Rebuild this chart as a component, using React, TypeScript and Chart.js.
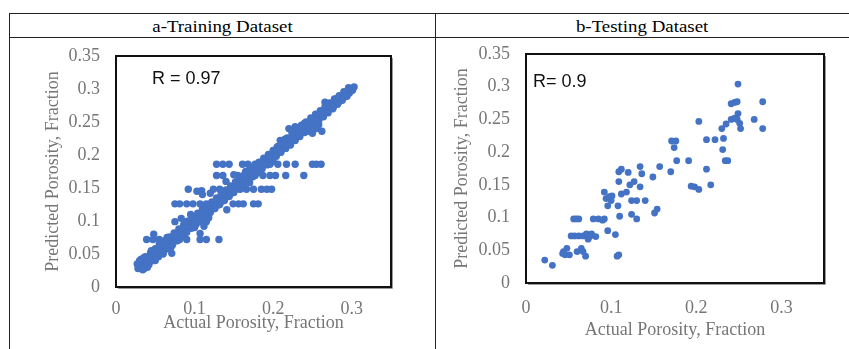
import React, { useEffect, useRef } from "react";
import { Chart, registerables } from "chart.js";

Chart.register(...registerables);

// ---------- data ----------
const headerLabels = ["a-Training Dataset", "b-Testing Dataset"];
const rLabels = ["R = 0.97", "R= 0.9"];
const xAxisTitle = "Actual Porosity, Fraction";
const yAxisTitle = "Predicted Porosity, Fraction";

const xTickValues = [0, 0.1, 0.2, 0.3];
const xTickLabels = ["0", "0.1", "0.2", "0.3"];
const yTickValues = [0, 0.05, 0.1, 0.15, 0.2, 0.25, 0.3, 0.35];
const yTickLabels = ["0", "0.05", "0.1", "0.15", "0.2", "0.25", "0.3", "0.35"];

// training: [actual, predicted] along the main band
const trainBand: number[][] = [
  [0.028, 0.028], [0.029, 0.034], [0.031, 0.030], [0.033, 0.036], [0.034, 0.031],
  [0.036, 0.039], [0.038, 0.034], [0.040, 0.041], [0.041, 0.036], [0.043, 0.046],
  [0.045, 0.040], [0.046, 0.050], [0.048, 0.044], [0.050, 0.047], [0.052, 0.053],
  [0.053, 0.049], [0.055, 0.057], [0.057, 0.052], [0.058, 0.060], [0.060, 0.055],
  [0.062, 0.062], [0.064, 0.058], [0.066, 0.066], [0.067, 0.061], [0.069, 0.070],
  [0.071, 0.066], [0.073, 0.074], [0.075, 0.070], [0.077, 0.078], [0.078, 0.074],
  [0.080, 0.083], [0.082, 0.078], [0.084, 0.086], [0.086, 0.082], [0.088, 0.090],
  [0.090, 0.086], [0.091, 0.094], [0.093, 0.090], [0.095, 0.098], [0.097, 0.094],
  [0.099, 0.101], [0.101, 0.097], [0.103, 0.105], [0.105, 0.101], [0.107, 0.108],
  [0.109, 0.104], [0.111, 0.112], [0.113, 0.108], [0.115, 0.116], [0.117, 0.112],
  [0.119, 0.120], [0.121, 0.116], [0.123, 0.124], [0.125, 0.120], [0.127, 0.128],
  [0.129, 0.124], [0.131, 0.132], [0.133, 0.128], [0.135, 0.136], [0.137, 0.133],
  [0.139, 0.140], [0.141, 0.137], [0.143, 0.144], [0.145, 0.140], [0.147, 0.148],
  [0.149, 0.145], [0.151, 0.152], [0.153, 0.149], [0.155, 0.156], [0.157, 0.153],
  [0.159, 0.160], [0.161, 0.157], [0.163, 0.164], [0.165, 0.161], [0.167, 0.168],
  [0.169, 0.165], [0.171, 0.172], [0.173, 0.169], [0.175, 0.176], [0.177, 0.173],
  [0.179, 0.180], [0.181, 0.177], [0.183, 0.184], [0.185, 0.181], [0.187, 0.188],
  [0.189, 0.186], [0.191, 0.192], [0.193, 0.190], [0.195, 0.196], [0.197, 0.194],
  [0.199, 0.200], [0.201, 0.198], [0.203, 0.204], [0.205, 0.202], [0.207, 0.208],
  [0.209, 0.206], [0.211, 0.212], [0.213, 0.210], [0.215, 0.216], [0.217, 0.214],
  [0.219, 0.220], [0.221, 0.218], [0.223, 0.224], [0.225, 0.222], [0.227, 0.230],
  [0.229, 0.226], [0.231, 0.233], [0.233, 0.230], [0.235, 0.237], [0.237, 0.234],
  [0.239, 0.241], [0.241, 0.238], [0.243, 0.245], [0.245, 0.242], [0.247, 0.248],
  [0.249, 0.246], [0.251, 0.252], [0.253, 0.250], [0.255, 0.256], [0.257, 0.254],
  [0.259, 0.260], [0.261, 0.258], [0.263, 0.264], [0.265, 0.262], [0.267, 0.268],
  [0.269, 0.266], [0.271, 0.272], [0.273, 0.270], [0.275, 0.276], [0.277, 0.274],
  [0.279, 0.280], [0.281, 0.278], [0.283, 0.284], [0.285, 0.282], [0.287, 0.288],
  [0.289, 0.286], [0.291, 0.292], [0.293, 0.290], [0.295, 0.296], [0.297, 0.294],
  [0.299, 0.300], [0.301, 0.298], [0.303, 0.303],
];

// training: upper and lower edges of the band
const trainBandUpper: number[][] = [
  [0.032, 0.042], [0.038, 0.046], [0.044, 0.052], [0.050, 0.058], [0.056, 0.064],
  [0.062, 0.070], [0.068, 0.076], [0.074, 0.082], [0.080, 0.088], [0.086, 0.094],
  [0.092, 0.100], [0.098, 0.106], [0.104, 0.112], [0.110, 0.118], [0.116, 0.123],
  [0.122, 0.129], [0.128, 0.135], [0.134, 0.141], [0.140, 0.147], [0.146, 0.153],
  [0.152, 0.159], [0.158, 0.165], [0.164, 0.171], [0.170, 0.177], [0.176, 0.183],
  [0.182, 0.189], [0.188, 0.195], [0.194, 0.201], [0.200, 0.207], [0.206, 0.213],
  [0.212, 0.219], [0.218, 0.226], [0.224, 0.232], [0.236, 0.243], [0.242, 0.250],
  [0.248, 0.256], [0.254, 0.262], [0.260, 0.267], [0.266, 0.273], [0.272, 0.279],
  [0.278, 0.285], [0.284, 0.290], [0.290, 0.296], [0.296, 0.302],
];
const trainBandLower: number[][] = [
  [0.036, 0.028], [0.042, 0.034], [0.048, 0.040], [0.054, 0.046], [0.060, 0.052],
  [0.066, 0.058], [0.072, 0.064], [0.078, 0.070], [0.084, 0.077], [0.090, 0.083],
  [0.096, 0.089], [0.102, 0.095], [0.108, 0.101], [0.114, 0.107], [0.120, 0.113],
  [0.126, 0.119], [0.132, 0.125], [0.138, 0.131], [0.144, 0.137], [0.150, 0.143],
  [0.156, 0.149], [0.162, 0.155], [0.168, 0.161], [0.174, 0.167], [0.180, 0.173],
  [0.186, 0.179], [0.192, 0.185], [0.198, 0.192], [0.204, 0.198], [0.210, 0.204],
  [0.216, 0.210], [0.222, 0.216], [0.228, 0.222], [0.234, 0.228], [0.240, 0.234],
  [0.246, 0.240], [0.252, 0.246], [0.258, 0.252], [0.264, 0.258], [0.270, 0.264],
  [0.276, 0.270], [0.282, 0.277], [0.288, 0.283], [0.294, 0.289],
];

// training: horizontal rows of predictions
const trainRows: number[][] = [
  [0.128, 0.186], [0.136, 0.186], [0.144, 0.186], [0.161, 0.186], [0.168, 0.186],
  [0.177, 0.186], [0.196, 0.186], [0.206, 0.186], [0.217, 0.186], [0.228, 0.186],
  [0.250, 0.186], [0.255, 0.186], [0.261, 0.186],
  [0.128, 0.169], [0.136, 0.169], [0.155, 0.169], [0.163, 0.169], [0.177, 0.169],
  [0.187, 0.169], [0.196, 0.169], [0.203, 0.169], [0.216, 0.169], [0.239, 0.169],
  [0.092, 0.148], [0.103, 0.145], [0.109, 0.146], [0.124, 0.148], [0.132, 0.148],
  [0.158, 0.148], [0.166, 0.148], [0.175, 0.148], [0.185, 0.148], [0.192, 0.148],
  [0.198, 0.148],
  [0.075, 0.126], [0.081, 0.126], [0.090, 0.126], [0.098, 0.126], [0.107, 0.126],
  [0.115, 0.126], [0.149, 0.126], [0.156, 0.126], [0.162, 0.126], [0.175, 0.126],
  [0.181, 0.126],
  [0.075, 0.099], [0.090, 0.099], [0.107, 0.099], [0.115, 0.099],
  [0.039, 0.072], [0.047, 0.072], [0.055, 0.072], [0.065, 0.072], [0.081, 0.072],
  [0.090, 0.072], [0.107, 0.072], [0.115, 0.072], [0.131, 0.072],
  [0.058, 0.051], [0.071, 0.051],
];

const trainExtras: number[][] = [
  [0.107, 0.081], [0.048, 0.080], [0.141, 0.117], [0.095, 0.110], [0.100, 0.090],
  [0.112, 0.092], [0.118, 0.105], [0.083, 0.104], [0.110, 0.140], [0.120, 0.142],
  [0.140, 0.160], [0.150, 0.170], [0.160, 0.150], [0.165, 0.175], [0.170, 0.158],
  [0.220, 0.240], [0.224, 0.236], [0.228, 0.243], [0.232, 0.238], [0.240, 0.248],
  [0.244, 0.236], [0.250, 0.233], [0.255, 0.240], [0.258, 0.246], [0.262, 0.236],
  [0.236, 0.245], [0.266, 0.280], [0.270, 0.276], [0.276, 0.272], [0.283, 0.280],
  [0.280, 0.285], [0.209, 0.222], [0.215, 0.224], [0.222, 0.215], [0.200, 0.190],
  [0.205, 0.212], [0.030, 0.040], [0.036, 0.045], [0.040, 0.030], [0.045, 0.055],
  [0.050, 0.040], [0.055, 0.065], [0.060, 0.050], [0.065, 0.075], [0.070, 0.060],
  [0.034, 0.026], [0.027, 0.035],
];

// testing
const testActual = [
  0.022, 0.031, 0.044, 0.048, 0.046, 0.051, 0.043, 0.053, 0.057, 0.062,
  0.067, 0.056, 0.059, 0.062, 0.060, 0.065, 0.067, 0.070, 0.071, 0.073,
  0.077, 0.075, 0.082, 0.079, 0.085, 0.090, 0.092, 0.092, 0.096, 0.094,
  0.096, 0.098, 0.100, 0.101, 0.105, 0.107, 0.109, 0.108, 0.110, 0.109,
  0.109, 0.112, 0.112, 0.118, 0.120, 0.122, 0.124, 0.124, 0.127, 0.130,
  0.130, 0.134, 0.136, 0.134, 0.140, 0.149, 0.151, 0.154, 0.157, 0.170,
  0.171, 0.176, 0.174, 0.177, 0.191, 0.194, 0.198, 0.203, 0.203, 0.212,
  0.212, 0.217, 0.222, 0.230, 0.232, 0.231, 0.234, 0.237, 0.235, 0.241,
  0.241, 0.245, 0.248, 0.245, 0.248, 0.249, 0.249, 0.251, 0.252, 0.268,
  0.278, 0.278,
];
const testPredicted = [
  0.035, 0.027, 0.048, 0.053, 0.043, 0.043, 0.045, 0.072, 0.072, 0.072,
  0.072, 0.098, 0.098, 0.098, 0.048, 0.053, 0.048, 0.041, 0.075, 0.067,
  0.075, 0.071, 0.071, 0.098, 0.098, 0.096, 0.098, 0.139, 0.080, 0.129,
  0.118, 0.132, 0.126, 0.133, 0.074, 0.041, 0.043, 0.118, 0.102, 0.155,
  0.170, 0.174, 0.136, 0.139, 0.169, 0.150, 0.126, 0.105, 0.155, 0.126,
  0.098, 0.178, 0.167, 0.147, 0.126, 0.162, 0.107, 0.113, 0.178, 0.170,
  0.217, 0.217, 0.207, 0.187, 0.187, 0.148, 0.147, 0.143, 0.247, 0.174,
  0.219, 0.150, 0.219, 0.236, 0.221, 0.204, 0.187, 0.187, 0.243, 0.250,
  0.274, 0.276, 0.277, 0.252, 0.250, 0.259, 0.304, 0.244, 0.236, 0.250,
  0.277, 0.236,
];

// ---------- styling ----------
const POINT_COLOR = "#4472C4";
const AXIS_TEXT = "#767676";
const SERIF = "'Liberation Serif', 'Times New Roman', serif";
const SANS = "'Liberation Sans', Arial, sans-serif";

type Cfg = {
  left: number; top: number; width: number; height: number;
  padTop: number; padRight: number; yAxisWidth: number; xAxisHeight: number;
  yTitlePad: number; xTitlePad: number; xTickPad: number; yTickPad: number;
  rdx: number; rdy: number; radius: number;
};

const framePlugin = {
  id: "frameAndLabel",
  afterDraw(chart: any, _args: any, opts: any) {
    const { ctx, chartArea: a } = chart;
    ctx.save();
    ctx.strokeStyle = "#111";
    ctx.lineWidth = 2;
    ctx.strokeRect(a.left, a.top, a.right - a.left, a.bottom - a.top);
    ctx.strokeStyle = "#9a9a9a";
    ctx.lineWidth = 1;
    ctx.beginPath();
    ctx.moveTo(a.right + 1.5, a.top + 2);
    ctx.lineTo(a.right + 1.5, a.bottom + 1.5);
    ctx.lineTo(a.left + 2, a.bottom + 1.5);
    ctx.stroke();
    ctx.fillStyle = "#111";
    ctx.font = `18px ${SANS}`;
    ctx.textBaseline = "alphabetic";
    ctx.textAlign = "left";
    ctx.fillText(opts.text, a.left + opts.dx, a.top + opts.dy);
    ctx.restore();
  },
};

function ScatterPanel({ points, label, cfg }: { points: { x: number; y: number }[]; label: string; cfg: Cfg }) {
  const ref = useRef<HTMLCanvasElement | null>(null);
  useEffect(() => {
    if (!ref.current) return;
    const chart = new Chart(ref.current, {
      type: "scatter",
      data: {
        datasets: [
          {
            data: points,
            pointRadius: cfg.radius,
            pointBackgroundColor: POINT_COLOR,
            pointBorderColor: POINT_COLOR,
            pointBorderWidth: 0,
            showLine: false,
          },
        ],
      },
      options: {
        animation: false,
        responsive: false,
        maintainAspectRatio: false,
        layout: { padding: { top: cfg.padTop, right: cfg.padRight, left: 0, bottom: 0 } },
        plugins: {
          legend: { display: false },
          tooltip: { enabled: false },
          frameAndLabel: { text: label, dx: cfg.rdx, dy: cfg.rdy },
        } as any,
        scales: {
          x: {
            type: "linear",
            min: 0,
            max: 0.35,
            grid: { display: false, drawTicks: false },
            border: { display: false },
            afterBuildTicks: (s: any) => {
              s.ticks = xTickValues.map((v) => ({ value: v }));
            },
            afterFit: (s: any) => {
              s.height = cfg.xAxisHeight;
              s.paddingLeft = 0;
              s.paddingRight = 0;
            },
            ticks: {
              autoSkip: false,
              maxRotation: 0,
              padding: cfg.xTickPad,
              color: AXIS_TEXT,
              font: { family: SERIF, size: 18 },
              callback: (v: any) => xTickLabels[xTickValues.indexOf(v)] ?? "",
            },
            title: {
              display: true,
              text: xAxisTitle,
              color: AXIS_TEXT,
              font: { family: SERIF, size: 18, lineHeight: 1 },
              padding: { top: 0, bottom: cfg.xTitlePad },
            },
          },
          y: {
            type: "linear",
            min: 0,
            max: 0.35,
            grid: { display: false, drawTicks: false },
            border: { display: false },
            afterBuildTicks: (s: any) => {
              s.ticks = yTickValues.map((v) => ({ value: v }));
            },
            afterFit: (s: any) => {
              s.width = cfg.yAxisWidth;
              s.paddingTop = 0;
              s.paddingBottom = 0;
            },
            ticks: {
              autoSkip: false,
              padding: cfg.yTickPad,
              color: AXIS_TEXT,
              font: { family: SERIF, size: 18 },
              callback: (v: any) => yTickLabels[yTickValues.indexOf(v)] ?? "",
            },
            title: {
              display: true,
              text: yAxisTitle,
              color: AXIS_TEXT,
              font: { family: SERIF, size: 18, lineHeight: 1 },
              padding: { top: cfg.yTitlePad, bottom: 0 },
            },
          },
        },
      } as any,
      plugins: [framePlugin as any],
    });
    return () => chart.destroy();
  }, []);
  return (
    <canvas
      ref={ref}
      width={cfg.width}
      height={cfg.height}
      style={{ position: "absolute", left: cfg.left, top: cfg.top, width: cfg.width, height: cfg.height }}
    />
  );
}

const leftCfg: Cfg = {
  left: 20, top: 40, width: 390, height: 305,
  padTop: 16, padRight: 19, yAxisWidth: 96, xAxisHeight: 58,
  yTitlePad: 24, xTitlePad: 13, xTickPad: 11, yTickPad: 16,
  rdx: 36, rdy: 28, radius: 3.7,
};
const rightCfg: Cfg = {
  left: 440, top: 40, width: 405, height: 305,
  padTop: 14, padRight: 21, yAxisWidth: 86, xAxisHeight: 62,
  yTitlePad: 13, xTitlePad: 6, xTickPad: 14, yTickPad: 16,
  rdx: 7, rdy: 33, radius: 3.4,
};

const lineStyle = (l: number, t: number, w: number, h: number): React.CSSProperties => ({
  position: "absolute", left: l, top: t, width: w, height: h, background: "#222",
});

export default function App() {
  const trainPoints = [...trainBand, ...trainBandUpper, ...trainBandLower, ...trainRows, ...trainExtras].map(
    ([x, y]) => ({ x, y })
  );
  const testPoints = testActual.map((x, i) => ({ x, y: testPredicted[i] }));
  const headerStyle = (l: number, w: number): React.CSSProperties => ({
    position: "absolute", left: l, top: 15, width: w, height: 23, lineHeight: "23px",
    textAlign: "center", fontFamily: SERIF, fontSize: 16, color: "#000",
  });
  return (
    <div style={{ position: "absolute", left: 0, top: 0, width: 849, height: 349, overflow: "hidden", background: "#fff" }}>
      <div style={lineStyle(9, 13, 840, 1)} />
      <div style={lineStyle(9, 37, 840, 1)} />
      <div style={lineStyle(9, 13, 1, 336)} />
      <div style={lineStyle(435, 13, 1, 336)} />
      <div style={headerStyle(10, 425)}>
        <span style={{ display: "inline-block", transform: "scaleX(1.18)" }}>{headerLabels[0]}</span>
      </div>
      <div style={headerStyle(436, 413)}>
        <span style={{ display: "inline-block", transform: "scaleX(1.18)" }}>{headerLabels[1]}</span>
      </div>
      <ScatterPanel points={trainPoints} label={rLabels[0]} cfg={leftCfg} />
      <ScatterPanel points={testPoints} label={rLabels[1]} cfg={rightCfg} />
    </div>
  );
}
